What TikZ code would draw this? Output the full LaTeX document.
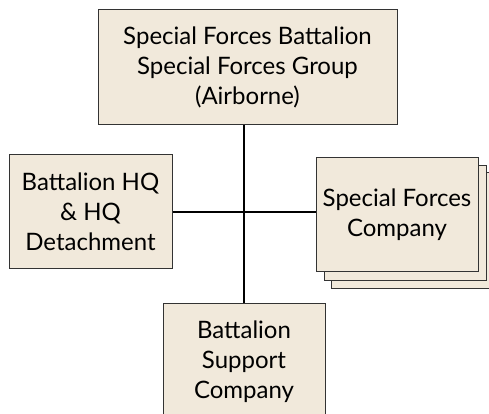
\documentclass[tikz,border=0pt]{standalone}
\usepackage{fontspec}
\setmainfont{Lato}
\usepackage{tikz}

\definecolor{boxfill}{HTML}{F1E9DB}
\definecolor{boxline}{HTML}{333333}

\tikzset{
    unit/.style={draw=boxline,line width=1pt,fill=boxfill,align=center,inner sep=0pt,
        font=\fontsize{24}{30}\selectfont},
    link/.style={line width=1.4pt,black}
}

\begin{document}
\begin{tikzpicture}[x=1pt,y=1pt]

            \useasboundingbox (0,0) rectangle (489,414);
            \clip (0,0) rectangle (489,414);

            % stacked copies behind the company box
            \path   (413,183) node (sfc3) [unit,minimum width=164pt,minimum height=116pt] {}
                    (405,190.5) node (sfc2) [unit,minimum width=162pt,minimum height=115pt] {};

            \path   (247.5,346.5) node (bn) [unit,minimum width=299pt,minimum height=115pt]
                        {Special Forces Battalion\\Special Forces Group\\(Airborne)}
                    (90.5,202) node (hq) [unit,minimum width=163pt,minimum height=114pt]
                        {Battalion HQ\\\& HQ\\Detachment}
                    (397,199) node (sfc) [unit,minimum width=162pt,minimum height=114pt]
                        {Special Forces\\Company}
                    (244,52) node (spt) [unit,minimum width=162pt,minimum height=116pt]
                        {Battalion\\Support\\Company};

            \draw[link] (bn.south -| spt.north) -- (spt.north);
            \draw[link] (hq.east) -- (hq.east -| sfc.west);

        \end{tikzpicture}
\end{document}
